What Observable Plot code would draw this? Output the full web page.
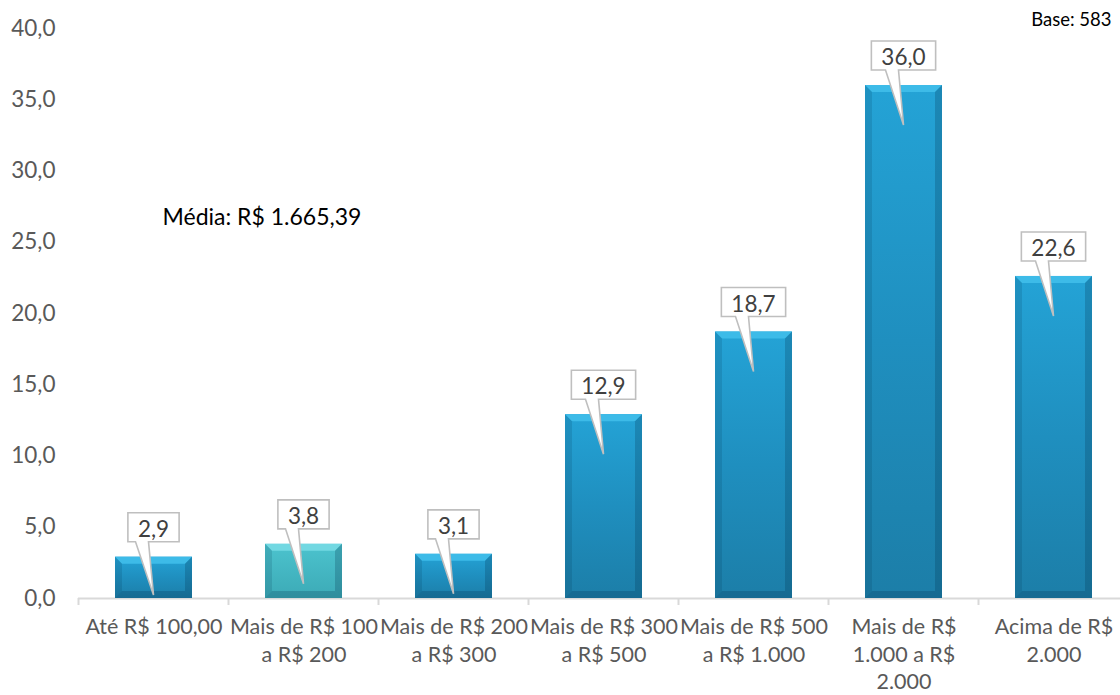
<!DOCTYPE html>
<html><head><meta charset="utf-8">
<script src="https://cdn.jsdelivr.net/npm/d3@7"></script>
<script src="https://cdn.jsdelivr.net/npm/@observablehq/plot@0.6"></script>
<style>
html,body{margin:0;padding:0;background:#fff;overflow:hidden}
#chart svg{display:block}
</style></head><body><div id="chart"></div>
<script>
const categories = ["Até R$ 100,00","Mais de R$ 100\na R$ 200","Mais de R$ 200\na R$ 300","Mais de R$ 300\na R$ 500","Mais de R$ 500\na R$ 1.000","Mais de R$\n1.000 a R$\n2.000","Acima de R$\n2.000"];
const values = [2.9, 3.8, 3.1, 12.9, 18.7, 36.0, 22.6];
const yTicks = [0, 5, 10, 15, 20, 25, 30, 35, 40];
const highlighted = categories[1];
const mediaText = "Média: R$ 1.665,39";
const baseText = "Base: 583";

const fmt = v => v.toFixed(1).replace(".", ",");
const data = categories.map((cat, i) => ({cat, value: values[i]}));
const FONT = "Lato, 'Open Sans', sans-serif";

const chart = Plot.plot({
  width: 1120,
  height: 695,
  marginTop: 28,
  marginBottom: 97,
  marginLeft: 78,
  marginRight: -8,
  style: {fontFamily: FONT, color: "#595959", background: "#fff", overflow: "hidden"},
  x: {domain: categories, paddingInner: 0.49, paddingOuter: 0.245},
  y: {domain: [0, 40]},
  marks: [
    Plot.ruleY([0], {stroke: "#d9d9d9", strokeWidth: 2}),
    Plot.barY(data, {filter: d => d.cat !== highlighted, x: "cat", y: "value", fill: "url(#gBlue)"}),
    Plot.barY(data, {filter: d => d.cat === highlighted, x: "cat", y: "value", fill: "url(#gTeal)"}),
    Plot.axisY({ticks: yTicks, tickFormat: fmt, tickSize: 0, tickPadding: 23, fontSize: 22.5, label: null, fill: "#595959"}),
    Plot.axisX({tickSize: 0, tickPadding: 16, fontSize: 21.5, lineHeight: 1.28, label: null, fill: "#595959"}),
    Plot.text([mediaText], {text: d => d, frameAnchor: "top-left", dx: 84, dy: 189, textAnchor: "start", lineAnchor: "middle", fontSize: 23, fill: "#000"}),
    Plot.text([baseText], {text: d => d, frameAnchor: "top-right", dx: -17, dy: -8, textAnchor: "end", lineAnchor: "middle", fontSize: 18.5, fill: "#000"})
  ]
});
document.getElementById("chart").appendChild(chart);

const svg = d3.select(chart);
const defs = svg.insert("defs", ":first-child");
function vgrad(id, stops) {
  const g = defs.append("linearGradient").attr("id", id).attr("x1", 0).attr("y1", 0).attr("x2", 0).attr("y2", 1);
  stops.forEach(([o, c]) => g.append("stop").attr("offset", o).attr("stop-color", c));
}
vgrad("gBlue", [[0, "#24a3d6"], [0.5, "#1f8fbf"], [1, "#1c7ea8"]]);
vgrad("gTeal", [[0, "#4cc3ce"], [1, "#3caab6"]]);

const xs = chart.scale("x"), ys = chart.scale("y");
const bw = xs.bandwidth, step = xs.step;
const y0 = ys.apply(0);

// boundary ticks on the category axis
const tickG = svg.append("g");
categories.forEach(c => {
  const xb = xs.apply(c) - (step - bw) / 2;
  tickG.append("line").attr("x1", xb).attr("x2", xb).attr("y1", y0).attr("y2", y0 + 7)
    .attr("stroke", "#d9d9d9").attr("stroke-width", 2);
});

// bevel shading on bars
const bev = svg.append("g");
const b = 7;
data.forEach(d => {
  const x0 = xs.apply(d.cat), x1 = x0 + bw, yt = ys.apply(d.value), yb = y0;
  const teal = d.cat === highlighted;
  const poly = (pts, fill) => bev.append("polygon").attr("points", pts.map(p => p.join(",")).join(" ")).attr("fill", fill);
  poly([[x0, yt], [x1, yt], [x1 - b, yt + b], [x0 + b, yt + b]], teal ? "#72d8e2" : "#3dbbe8");
  poly([[x0, yt], [x0 + b, yt + b], [x0 + b, yb - b], [x0, yb]], "rgba(0,40,70,0.14)");
  poly([[x1, yt], [x1 - b, yt + b], [x1 - b, yb - b], [x1, yb]], "rgba(0,40,70,0.22)");
  poly([[x0, yb], [x0 + b, yb - b], [x1 - b, yb - b], [x1, yb]], "rgba(0,30,60,0.2)");
});

// callout labels
const cg = svg.append("g").attr("font-family", FONT);
data.forEach(d => {
  const cx = xs.apply(d.cat) + bw / 2;
  const yt = ys.apply(d.value);
  const boxBottom = yt - 15, boxTop = boxBottom - 29;
  const g = cg.append("g");
  const path = g.append("path");
  const t = g.append("text").attr("x", cx).attr("y", boxBottom - 5).attr("text-anchor", "middle")
    .attr("font-size", 22.5).attr("fill", "#404040").text(fmt(d.value));
  const w = t.node().getComputedTextLength() + 20;
  const left = cx - w / 2, right = cx + w / 2;
  const tipY = Math.min(yt + 40, y0 - 3);
  path.attr("d", `M${left},${boxTop}H${right}V${boxBottom}H${cx - 5}L${cx},${tipY}L${cx - 18},${boxBottom}H${left}Z`)
    .attr("fill", "#fff").attr("stroke", "#bfbfbf").attr("stroke-width", 1.6).attr("stroke-linejoin", "miter");
});
</script></body></html>
